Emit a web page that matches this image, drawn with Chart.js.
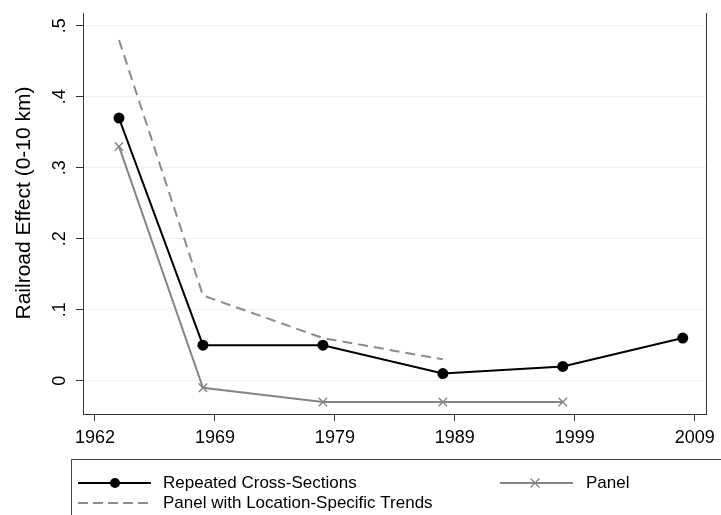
<!DOCTYPE html>
<html><head><meta charset="utf-8">
<script src="https://cdn.jsdelivr.net/npm/chart.js@4.4.1/dist/chart.umd.min.js"></script>
<style>html,body{margin:0;padding:0;background:#fff;} canvas{display:block;}</style>
</head><body>
<canvas id="c" width="721" height="515"></canvas>
<script>
const years = [1962, 1969, 1979, 1989, 1999, 2009];
const crossSections = [0.37, 0.05, 0.05, 0.01, 0.02, 0.06];
const panel = [0.33, -0.01, -0.03, -0.03, -0.03];
const panelTrends = [0.48, 0.12, 0.06, 0.03];
const xTickValues = [1960, 1970, 1980, 1990, 2000, 2010];
const xTickLabels = ["1962", "1969", "1979", "1989", "1999", "2009"];
const yTickValues = [0, 0.1, 0.2, 0.3, 0.4, 0.5];
const yTickLabels = ["0", ".1", ".2", ".3", ".4", ".5"];
const seriesNames = ["Repeated Cross-Sections", "Panel", "Panel with Location-Specific Trends"];
const yTitle = "Railroad Effect (0-10 km)";

const FONT = '"Liberation Sans", Arial, sans-serif';
const BLACK = '#000000';
const GRAY = '#858585';
const DGRAY = '#8c8c8c';

function pts(vals) { return vals.map((v, i) => ({x: years[i], y: v})); }

function drawCross(ctx, x, y, r) {
  ctx.beginPath();
  ctx.moveTo(x - r, y - r); ctx.lineTo(x + r, y + r);
  ctx.moveTo(x - r, y + r); ctx.lineTo(x + r, y - r);
  ctx.stroke();
}

const decor = {
  id: 'decor',
  afterDraw(chart) {
    const ctx = chart.ctx, a = chart.chartArea, y = chart.scales.y;
    ctx.save();
    // right frame line
    ctx.strokeStyle = '#333'; ctx.lineWidth = 1;
    const rx = Math.round(a.right) - 0.5;
    ctx.beginPath(); ctx.moveTo(rx, a.top); ctx.lineTo(rx, a.bottom); ctx.stroke();
    // rotated y tick labels
    ctx.fillStyle = '#000';
    ctx.font = '18px ' + FONT;
    ctx.textAlign = 'center'; ctx.textBaseline = 'middle';
    yTickValues.forEach((v, i) => {
      const py = y.getPixelForValue(v);
      ctx.save(); ctx.translate(60, py); ctx.rotate(-Math.PI / 2);
      ctx.fillText(yTickLabels[i], 0, 0);
      ctx.restore();
    });
    // y title
    ctx.font = '21px ' + FONT;
    ctx.save(); ctx.translate(24, 203); ctx.rotate(-Math.PI / 2);
    ctx.fillText(yTitle, 0, 0);
    ctx.restore();
    // legend box
    ctx.strokeStyle = '#444'; ctx.lineWidth = 1;
    ctx.strokeRect(71.5, 459.5, 700, 80);
    ctx.font = '17px ' + FONT; ctx.textAlign = 'left'; ctx.textBaseline = 'middle';
    // row 1: cross sections
    ctx.strokeStyle = BLACK; ctx.lineWidth = 2;
    ctx.beginPath(); ctx.moveTo(78, 483); ctx.lineTo(151, 483); ctx.stroke();
    ctx.fillStyle = BLACK; ctx.beginPath(); ctx.arc(115, 483, 5, 0, Math.PI * 2); ctx.fill();
    ctx.fillText(seriesNames[0], 163, 483);
    // panel
    ctx.strokeStyle = GRAY; ctx.lineWidth = 2;
    ctx.beginPath(); ctx.moveTo(500, 483); ctx.lineTo(573, 483); ctx.stroke();
    ctx.lineWidth = 1.3; drawCross(ctx, 535, 483, 4.5);
    ctx.fillStyle = '#000';
    ctx.fillText(seriesNames[1], 586, 483);
    // row 2: dashed
    ctx.strokeStyle = DGRAY; ctx.lineWidth = 2; ctx.setLineDash([10, 5]);
    ctx.beginPath(); ctx.moveTo(78, 503); ctx.lineTo(151, 503); ctx.stroke();
    ctx.setLineDash([]);
    ctx.fillText(seriesNames[2], 163, 503);
    ctx.restore();
  }
};

new Chart(document.getElementById('c'), {
  type: 'scatter',
  data: {
    datasets: [
      {label: seriesNames[2], data: pts(panelTrends), showLine: true, borderColor: DGRAY, borderWidth: 2,
       borderDash: [10, 6], pointRadius: 0, fill: false},
      {label: seriesNames[1], data: pts(panel), showLine: true, borderColor: GRAY, borderWidth: 2,
       pointStyle: 'crossRot', pointRadius: 6, pointBorderWidth: 1.4, pointBorderColor: GRAY, fill: false},
      {label: seriesNames[0], data: pts(crossSections), showLine: true, borderColor: BLACK, borderWidth: 2,
       pointStyle: 'circle', pointRadius: 5.5, pointBackgroundColor: BLACK, pointBorderColor: BLACK, pointBorderWidth: 0, fill: false}
    ]
  },
  options: {
    responsive: false,
    animation: false,
    devicePixelRatio: 1,
    layout: {padding: {top: 13, right: 12, bottom: 55, left: 0}},
    plugins: {legend: {display: false}, tooltip: {enabled: false}},
    scales: {
      x: {
        type: 'linear', min: 1959, max: 2011,
        afterBuildTicks: s => { s.ticks = xTickValues.map(v => ({value: v})); },
        afterFit: s => { s.height = 46; },
        grid: {drawOnChartArea: false, drawTicks: true, tickLength: 7, tickColor: '#333', tickWidth: 1},
        border: {display: true, color: '#333', width: 1},
        ticks: {
          autoSkip: false, maxRotation: 0, minRotation: 0, padding: 6, color: '#000',
          font: {family: FONT, size: 18},
          callback: v => { const i = xTickValues.indexOf(v); return i >= 0 ? xTickLabels[i] : ''; }
        }
      },
      y: {
        type: 'linear', min: -0.047, max: 0.518,
        afterBuildTicks: s => { s.ticks = yTickValues.map(v => ({value: v})); },
        afterFit: s => { s.width = 83; },
        grid: {color: '#eaf2f3', lineWidth: 1, drawTicks: true, tickLength: 7, tickColor: '#333', tickWidth: 1},
        border: {display: true, color: '#333', width: 1},
        ticks: {display: false}
      }
    }
  },
  plugins: [decor]
});
</script>
</body></html>
